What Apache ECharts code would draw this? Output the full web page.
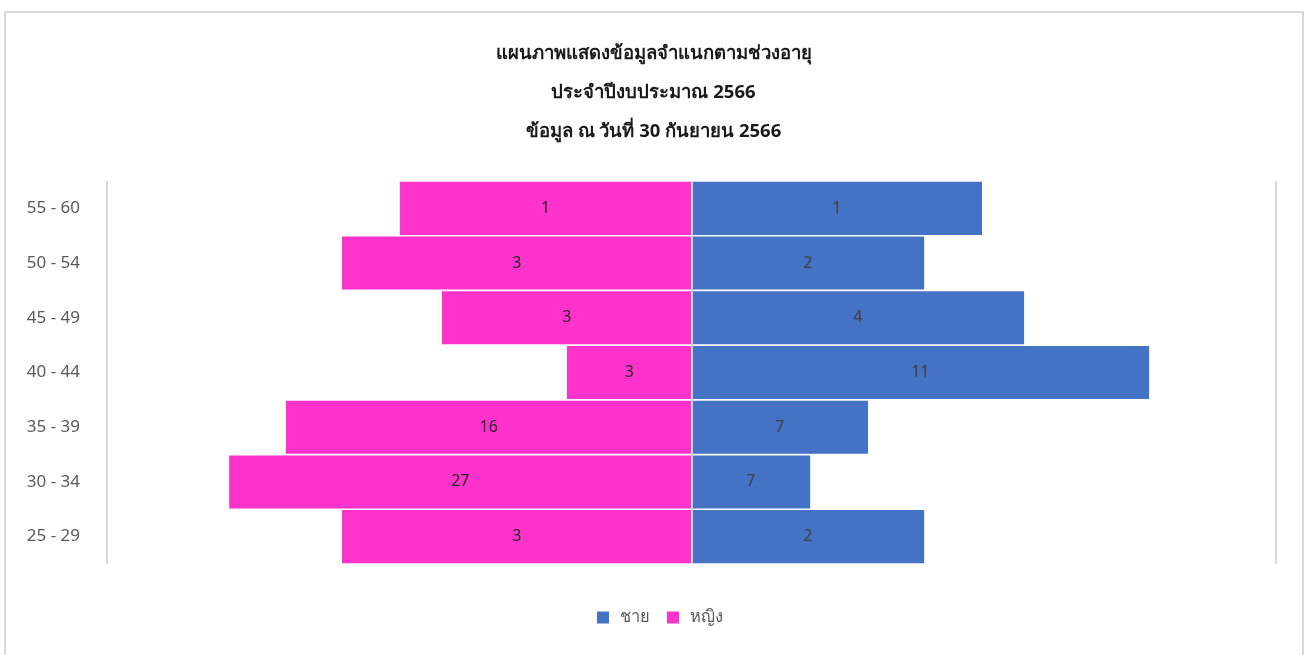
<!DOCTYPE html>
<html>
<head>
<meta charset="utf-8">
<script src="https://cdn.jsdelivr.net/npm/echarts@6/dist/echarts.min.js"></script>
<style>
html,body{margin:0;padding:0;background:#fff;}
#chart{width:1307px;height:655px;}
</style>
</head>
<body>
<div id="chart"></div>
<script>
// Age groups, top to bottom
const categories = ["55 - 60", "50 - 54", "45 - 49", "40 - 44", "35 - 39", "30 - 34", "25 - 29"];
// Bar lengths as drawn
const maleBar = [4.97, 3.98, 5.69, 7.83, 3.02, 2.03, 3.98];
const femaleBar = [4.99, 5.98, 4.27, 2.13, 6.94, 7.91, 5.98];
// Data labels shown on the bars
const maleLabels = [1, 2, 4, 11, 7, 7, 2];
const femaleLabels = [1, 3, 3, 3, 16, 27, 3];
const seriesNames = ["ชาย", "หญิง"];
const titleLines = ["แผนภาพแสดงข้อมูลจำแนกตามช่วงอายุ", "ประจำปีงบประมาณ 2566", "ข้อมูล ณ วันที่ 30 กันยายน 2566"];

const FONT = '"Noto Sans", "DejaVu Sans", sans-serif';
const chart = echarts.init(document.getElementById('chart'), null, {renderer: 'canvas'});
chart.setOption({
  backgroundColor: '#ffffff',
  animation: false,
  textStyle: {fontFamily: FONT},
  graphic: [{
    type: 'rect', silent: true, z: -10,
    shape: {x: 5, y: 12, width: 1298, height: 660},
    style: {fill: 'none', stroke: '#d9d9d9', lineWidth: 2}
  }],
  title: {
    text: titleLines.join('\n'),
    left: 'center', top: 29,
    textStyle: {fontFamily: FONT, fontSize: 18.5, fontWeight: 'bold', color: '#1a1a1a', lineHeight: 39}
  },
  legend: {
    data: seriesNames,
    bottom: 24, left: 592,
    itemWidth: 12, itemHeight: 12, itemGap: 17,
    icon: 'rect',
    textStyle: {fontFamily: FONT, fontSize: 16.5, color: '#595959', padding: [0, 0, 0, 6]}
  },
  grid: {left: 107, right: 31, top: 181, bottom: 91},
  xAxis: {
    type: 'value', min: -10, max: 10, interval: 10,
    axisLabel: {show: false}, axisLine: {show: false}, axisTick: {show: false},
    splitLine: {show: true, lineStyle: {color: '#d9d9d9', width: 2}}
  },
  yAxis: {
    type: 'category', data: categories, inverse: true, position: 'left',
    axisLine: {show: false, onZero: false}, axisTick: {show: false},
    axisLabel: {margin: 27, fontSize: 17, color: '#595959', fontFamily: FONT}
  },
  series: [
    {
      name: seriesNames[0], type: 'bar',
      data: maleBar,
      barGap: '-100%', barCategoryGap: '3%',
      itemStyle: {color: '#4472c4'},
      label: {show: true, position: 'inside', color: '#404040', fontSize: 16, fontFamily: FONT,
        formatter: p => String(maleLabels[p.dataIndex])},
      markLine: {
        silent: true, symbol: 'none', label: {show: false},
        lineStyle: {color: '#d0d0d0', width: 2, type: 'solid'},
        data: [{xAxis: 0}]
      }
    },
    {
      name: seriesNames[1], type: 'bar',
      data: femaleBar.map(v => -v),
      barGap: '-100%', barCategoryGap: '3%',
      itemStyle: {color: '#ff33cc'},
      label: {show: true, position: 'inside', color: '#262626', fontSize: 16, fontFamily: FONT,
        formatter: p => String(femaleLabels[p.dataIndex])}
    }
  ]
});
</script>
</body>
</html>
